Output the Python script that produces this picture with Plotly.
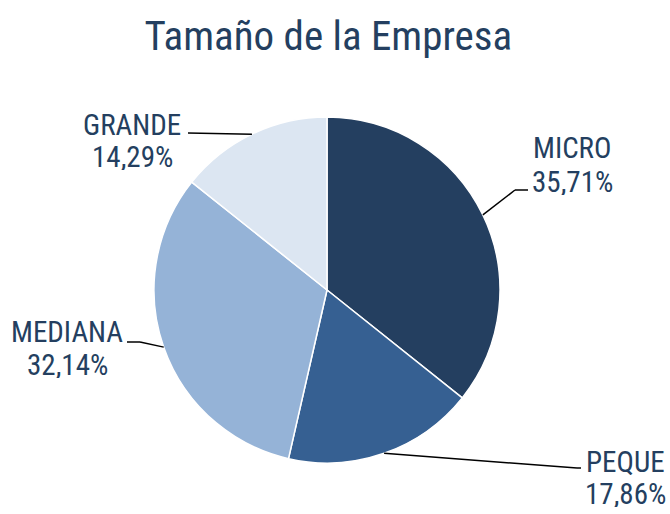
import math
import plotly.graph_objects as go

categories = ["MICRO", "PEQUE", "MEDIANA", "GRANDE"]
counts = [10, 5, 9, 4]
pct_labels = ["35,71%", "17,86%", "32,14%", "14,29%"]
colors = ["#243F60", "#366092", "#95B3D7", "#DCE6F2"]

W, H = 670, 514
TEXT = "#243F60"
FONT = "Liberation Sans Narrow, Arial Narrow, Roboto Condensed, Liberation Sans, sans-serif"

# pie geometry (pixels)
cx, cy, r = 327, 290, 173

def px(x):
    return x / W

def py(y):
    return 1 - y / H

fig = go.Figure(go.Pie(
    labels=categories, values=counts, sort=False, direction="clockwise", rotation=0,
    marker=dict(colors=colors, line=dict(color="#FFFFFF", width=1.5)),
    textinfo="none", hoverinfo="label+percent", showlegend=False,
    domain=dict(x=[px(cx - r), px(cx + r)], y=[py(cy + r), py(cy - r)]),
))

# label layout: (elbow point, end point, text centre x, name centre y, pct centre y)
label_layout = {
    "MICRO": ((515, 190), (528, 190), 572, 148, 182),
    "PEQUE": ((577, 468), (581, 468), 625, 462, 494),
    "MEDIANA": ((140, 342), (127, 342), 67, 332, 365),
    "GRANDE": ((188, 133), (188, 133), 132, 125, 157),
}

total = sum(counts)
cum = 0
annotations = []
shapes = []
for cat, val, pct in zip(categories, counts, pct_labels):
    mid = (cum + val / 2) / total * 2 * math.pi
    cum += val
    ex = cx + r * math.sin(mid)
    ey = cy - r * math.cos(mid)
    (bx, by), (tx, ty), lx, ny, pyy = label_layout[cat]
    for (x0, y0, x1, y1) in [(ex, ey, bx, by), (bx, by, tx, ty)]:
        if (x0, y0) != (x1, y1):
            shapes.append(dict(type="line", xref="paper", yref="paper",
                               x0=px(x0), y0=py(y0), x1=px(x1), y1=py(y1),
                               line=dict(color="#000000", width=1.5)))
    for txt, yy in [(cat, ny), (pct, pyy)]:
        annotations.append(dict(text=txt, x=px(lx), y=py(yy), xref="paper", yref="paper",
                                xanchor="center", yanchor="middle", showarrow=False, align="center",
                                height=26, valign="middle", borderpad=0,
                                font=dict(family=FONT, size=29, color=TEXT)))

fig.update_layout(
    width=W, height=H, margin=dict(l=0, r=0, t=0, b=0),
    paper_bgcolor="white", plot_bgcolor="white",
    title=dict(text="Tamaño de la Empresa", x=0.49, xanchor="center", y=1 - 36 / H, yanchor="middle",
               font=dict(family=FONT, size=41, color=TEXT)),
    annotations=annotations, shapes=shapes,
)

fig.write_html("out.html", config={"displayModeBar": False},
               post_script="document.body.style.margin='0';document.body.style.overflow='hidden';")
